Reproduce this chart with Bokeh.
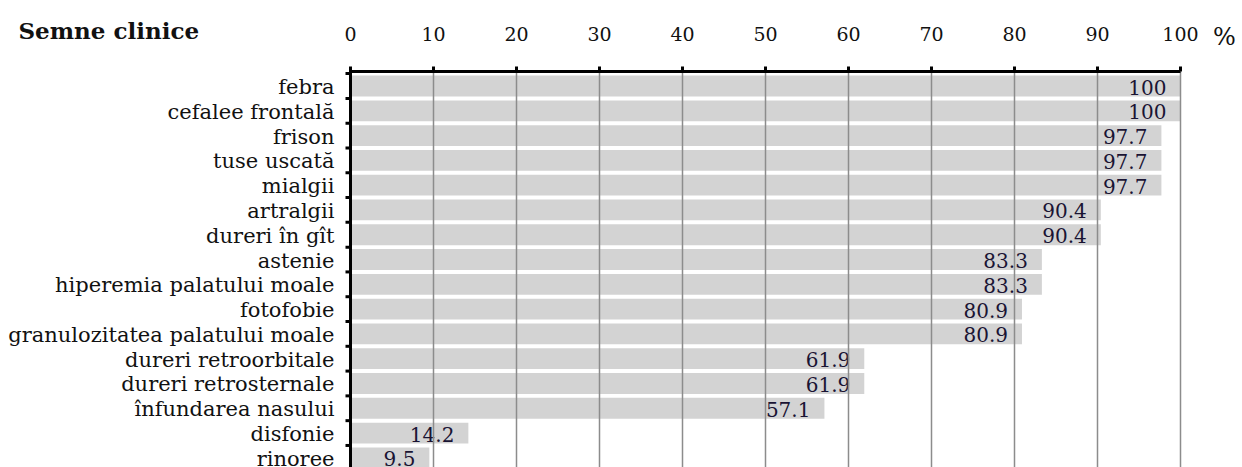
from bokeh.plotting import figure
from bokeh.models import Range1d, ColumnDataSource
from bokeh.embed import file_html
from bokeh.resources import INLINE
from bokeh.core.properties import value

categories = ["febra", "cefalee frontală", "frison", "tuse uscată", "mialgii",
              "artralgii", "dureri în gît", "astenie", "hiperemia palatului moale",
              "fotofobie", "granulozitatea palatului moale", "dureri retroorbitale",
              "dureri retrosternale", "înfundarea nasului", "disfonie", "rinoree"]
values = [100, 100, 97.7, 97.7, 97.7, 90.4, 90.4, 83.3, 83.3, 80.9, 80.9,
          61.9, 61.9, 57.1, 14.2, 9.5]
x_ticks = [0, 10, 20, 30, 40, 50, 60, 70, 80, 90, 100]
x_tick_labels = [str(t) for t in x_ticks]
title_text = "Semne clinice"
unit_text = "%"

SERIF = "DejaVu Serif"
TXT = "#111111"
W, H = 1242, 467
PX_X = 8.3             # pixels per percentage unit
PX_Y = 24.79           # pixels per category row
LEFT, TOPPX = 350, 71  # position of the value-axis origin in the page

# scales: the whole canvas is the plotting frame
x0 = -LEFT / PX_X
x1 = (W - LEFT) / PX_X
TOP = -0.585                     # row coordinate of the top axis line
y_top = TOP - TOPPX / PX_Y
y_bot = TOP + (H - TOPPX) / PX_Y

p = figure(width=W, height=H, output_backend="svg", toolbar_location=None,
           x_range=Range1d(x0, x1), y_range=Range1d(y_bot, y_top),
           x_axis_location=None, y_axis_location=None, min_border=0)
p.outline_line_color = None
p.background_fill_color = "white"
p.border_fill_color = "white"
p.grid.visible = False

n = len(categories)
pos = list(range(n))
src = ColumnDataSource(dict(y=pos, v=values, cat=categories,
                            lab=[("%g" % v) for v in values]))

# bars
p.hbar(y="y", right="v", left=0, height=0.84, source=src,
       fill_color="#d3d3d3", line_color=None)
# value labels
p.text(x="v", y="y", text="lab", source=src, text_align="right",
       text_baseline="middle", x_offset=-14, y_offset=1,
       text_font=value(SERIF), text_font_size="20px", text_color="#1a1433")

# vertical grid lines (over the bars)
p.segment(x0=x_ticks, y0=[TOP] * len(x_ticks), x1=x_ticks, y1=[y_bot] * len(x_ticks),
          line_color="#8c8c8c", line_width=1.5)

# category axis: line, boundary ticks, labels
bounds = [i - 0.5 for i in pos] + [n - 0.5]
p.segment(x0=[0] * len(bounds), y0=bounds, x1=[-5 / PX_X] * len(bounds), y1=bounds,
          line_color="black", line_width=3)
p.segment(x0=[0], y0=[TOP - 0.06], x1=[0], y1=[y_bot], line_color="black", line_width=3)
p.text(x=[0] * n, y=pos, text=categories, text_align="right", text_baseline="middle",
       x_offset=-16, y_offset=1, text_font=value(SERIF), text_font_size="21px",
       text_color=TXT)

# value axis at the top: line, ticks, labels
p.segment(x0=[0], y0=[TOP], x1=[100], y1=[TOP], line_color="black", line_width=3)
p.segment(x0=x_ticks, y0=[TOP] * len(x_ticks), x1=x_ticks,
          y1=[TOP - 5 / PX_Y] * len(x_ticks), line_color="black", line_width=3)
p.text(x=x_ticks, y=[TOP] * len(x_ticks), text=x_tick_labels, text_align="center",
       text_baseline="middle", y_offset=-38, text_font=value(SERIF),
       text_font_size="19px", text_color=TXT)

# title and unit
p.text(x=[0], y=[TOP], text=[title_text], text_align="left", text_baseline="middle",
       x_offset=-332, y_offset=-41, text_font=value(SERIF), text_font_style="bold",
       text_font_size="23px", text_color=TXT)
p.text(x=[100], y=[TOP], text=[unit_text], text_align="center", text_baseline="middle",
       x_offset=44, y_offset=-35, text_font=value(SERIF), text_font_size="24px",
       text_color=TXT)

open("out.html", "w").write(file_html(p, INLINE))
